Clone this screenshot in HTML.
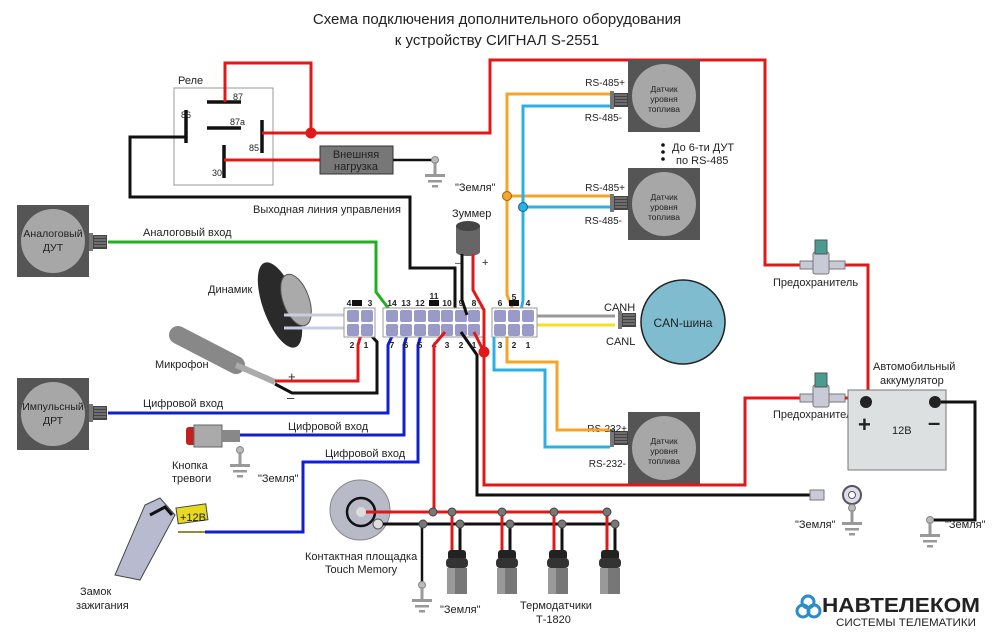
<!DOCTYPE html>
<html><head><meta charset="utf-8"><style>
html,body{margin:0;padding:0;background:#fff}
svg{display:block}
text{font-family:"Liberation Sans",sans-serif;fill:#222}
</style></head><body>
<svg width="1000" height="643" viewBox="0 0 1000 643" xmlns="http://www.w3.org/2000/svg">
<defs>
<g id="gnd"><circle cx="0" cy="0" r="3.5" fill="#bbb" stroke="#888"/><rect x="-1.5" y="2" width="3" height="13" fill="#999"/><rect x="-10" y="14" width="20" height="3" fill="#999"/><rect x="-7" y="20" width="14" height="2.5" fill="#999"/><rect x="-3" y="25" width="6" height="2.5" fill="#999"/></g>
<g id="dut"><rect x="0" y="0" width="72" height="72" fill="#555"/><circle cx="36" cy="36" r="32" fill="#a7a7a7"/></g>
<g id="plug"><rect x="0" y="-7" width="14" height="14" fill="#444"/><rect x="-4" y="-9" width="4" height="18" fill="#777"/><path d="M1-5h12M1-2h12M1 1h12M1 4h12" stroke="#999" stroke-width="1"/></g>
<g id="thermo"><rect x="-9" y="0" width="18" height="10" rx="3" fill="#222"/><rect x="-11" y="8" width="22" height="10" rx="4" fill="#333"/><rect x="-10" y="18" width="20" height="26" fill="#777"/><rect x="-10" y="18" width="8" height="26" fill="#999"/></g>
</defs>

<text x="497" y="24" font-size="15" text-anchor="middle">Схема подключения дополнительного оборудования</text>
<text x="497" y="45" font-size="15" text-anchor="middle">к устройству СИГНАЛ S-2551</text>

<!-- relay -->
<text x="178" y="84" font-size="11">Реле</text>
<rect x="174" y="88" width="99" height="97" fill="#fff" stroke="#999"/>
<g stroke="#111" stroke-width="3.5" fill="none">
<path d="M207 102h34M207 128h34M186 110v33M262 120v33M224 145v33"/>
</g>
<g font-size="9"><text x="233" y="100">87</text><text x="230" y="125">87a</text><text x="181" y="118">86</text><text x="249" y="151">85</text><text x="212" y="176">30</text></g>

<path d="M186 137H130V197H410V268H455V312" stroke="#111" stroke-width="3" fill="none"/>
<text x="253" y="213" font-size="11">Выходная линия управления</text>
<g stroke="#e01818" stroke-width="3" fill="none">
<path d="M225 102V63H311V133"/>
<path d="M262 133H490V60H765V265H800"/>
<path d="M845 265H868V400"/>
<path d="M224 160H322"/>
</g>
<circle cx="311" cy="133" r="5.5" fill="#e01818"/>
<rect x="320" y="146" width="73" height="28" fill="#777" stroke="#333"/>
<text x="356" y="158" font-size="11" text-anchor="middle">Внешняя</text>
<text x="356" y="170" font-size="11" text-anchor="middle">нагрузка</text>
<path d="M393 160H433" stroke="#111" stroke-width="2.5"/>
<use href="#gnd" x="435" y="160"/>
<text x="455" y="191" font-size="11">"Земля"</text>

<use href="#dut" x="628" y="60"/><use href="#dut" x="628" y="168"/><use href="#dut" x="628" y="412"/>
<g font-size="8.5" text-anchor="middle" fill="#333">
<text x="664" y="92">Датчик</text><text x="664" y="102">уровня</text><text x="664" y="112">топлива</text>
<text x="664" y="200">Датчик</text><text x="664" y="210">уровня</text><text x="664" y="220">топлива</text>
<text x="664" y="444">Датчик</text><text x="664" y="454">уровня</text><text x="664" y="464">топлива</text>
</g>
<use href="#plug" x="614" y="100"/><use href="#plug" x="614" y="203"/><use href="#plug" x="614" y="438"/>
<g font-size="10" text-anchor="end"><text x="625" y="86">RS-485+</text><text x="622" y="121">RS-485-</text>
<text x="625" y="191">RS-485+</text><text x="622" y="224">RS-485-</text>
<text x="627" y="432">RS-232+</text><text x="626" y="467">RS-232-</text></g>
<circle cx="663" cy="145" r="1.8" fill="#111"/><circle cx="663" cy="152" r="1.8" fill="#111"/><circle cx="663" cy="159" r="1.8" fill="#111"/>
<text x="672" y="151" font-size="11">До 6-ти ДУТ</text><text x="676" y="164" font-size="11">по RS-485</text>

<g fill="none" stroke-width="3">
<path d="M610 94H507V295L514 312" stroke="#f4a428"/>
<path d="M507 196H610" stroke="#f4a428"/>
<path d="M610 106H523V300L520 316" stroke="#2ab0e4"/>
<path d="M523 207H610" stroke="#2ab0e4"/>
<path d="M502 320L507 330V362H557V430H610" stroke="#f4a428"/>
<path d="M503 327L494 335V370H545V447H610" stroke="#2ab0e4"/>
<path d="M528 316H615" stroke="#999"/>
<path d="M528 325H615" stroke="#f4e020"/>
</g>
<circle cx="507" cy="196" r="4.5" fill="#f4a428" stroke="#a06010"/>
<circle cx="523" cy="207" r="4.5" fill="#2ab0e4" stroke="#106090"/>
<use href="#plug" x="622" y="320"/>
<circle cx="683" cy="322" r="42" fill="#7fbcd0" stroke="#222" stroke-width="1.5"/>
<text x="683" y="327" font-size="12" text-anchor="middle">CAN-шина</text>
<text x="604" y="311" font-size="11">CANH</text><text x="606" y="345" font-size="11">CANL</text>

<use href="#dut" x="17" y="205"/><use href="#dut" x="17" y="378"/>
<use href="#plug" x="93" y="242"/><use href="#plug" x="93" y="413"/>
<g font-size="10.5" text-anchor="middle"><text x="53" y="237">Аналоговый</text><text x="53" y="251">ДУТ</text>
<text x="53" y="410">Импульсный</text><text x="53" y="424">ДРТ</text></g>
<path d="M108 242H376V292L392 313" stroke="#22b020" stroke-width="3" fill="none"/>
<text x="143" y="236" font-size="11">Аналоговый вход</text>

<g stroke="#1020d0" stroke-width="3" fill="none">
<path d="M108 413H388V345L394 332"/>
<path d="M240 435H404V345L408 332"/>
<path d="M205 532H303V462H418V345L422 332"/>
</g>
<text x="143" y="407" font-size="11">Цифровой вход</text>
<text x="288" y="430" font-size="11">Цифровой вход</text>
<text x="325" y="457" font-size="11">Цифровой вход</text>

<ellipse cx="280" cy="305" rx="17" ry="45" transform="rotate(-20 280 305)" fill="#2a2a2a"/>
<ellipse cx="296" cy="300" rx="13" ry="27" transform="rotate(-20 296 300)" fill="#aaa" stroke="#555"/>
<text x="208" y="293" font-size="11">Динамик</text>
<path d="M284 315H350M284 328H350" stroke="#c8cce0" stroke-width="3"/>
<path d="M178 335L236 365" stroke="#888" stroke-width="18" stroke-linecap="round"/>
<path d="M236 365L275 382" stroke="#aaa" stroke-width="6"/>
<text x="155" y="368" font-size="11">Микрофон</text>
<path d="M275 381H358V345L366 318" stroke="#e01818" stroke-width="3" fill="none"/>
<path d="M275 384L292 393H377V342L368 332" stroke="#111" stroke-width="3" fill="none"/>
<text x="288" y="381" font-size="13">+</text><text x="287" y="402" font-size="13">–</text>

<rect x="186" y="427" width="10" height="18" rx="3" fill="#c02020"/>
<rect x="194" y="425" width="28" height="22" fill="#aaa" stroke="#666"/>
<rect x="222" y="430" width="18" height="12" fill="#888"/>
<use href="#gnd" x="240" y="450"/>
<text x="172" y="469" font-size="11">Кнопка</text><text x="172" y="482" font-size="11">тревоги</text>
<text x="258" y="482" font-size="11">"Земля"</text>

<path d="M115 575L145 505L160 498L175 515L140 580Z" fill="#b8bbd0" stroke="#444"/>
<path d="M150 515L165 507L172 515" stroke="#111" stroke-width="3" fill="none"/>
<rect x="176" y="508" width="30" height="16" fill="#e8d820" stroke="#444" transform="rotate(-8 176 508)"/>
<text x="180" y="521" font-size="11" fill="#111">+12В</text>
<path d="M178 532H205" stroke="#998a30" stroke-width="2"/>
<text x="80" y="595" font-size="11">Замок</text><text x="76" y="609" font-size="11">зажигания</text>

<rect x="344" y="308" width="31" height="29" fill="#fff" stroke="#999"/>
<rect x="383" y="308" width="100" height="29" fill="#fff" stroke="#999"/>
<rect x="492" y="308" width="45" height="29" fill="#fff" stroke="#999"/>
<rect x="352" y="300" width="10" height="6" fill="#111"/>
<rect x="429" y="300" width="10" height="6" fill="#111"/>
<rect x="509" y="300" width="10" height="6" fill="#111"/>
<g fill="#9a9ac8">
<rect x="347" y="310" width="12" height="12" rx="2"/><rect x="361" y="310" width="12" height="12" rx="2"/>
<rect x="347" y="324" width="12" height="12" rx="2"/><rect x="361" y="324" width="12" height="12" rx="2"/>
<rect x="386" y="310" width="12" height="12" rx="2"/><rect x="400" y="310" width="12" height="12" rx="2"/><rect x="414" y="310" width="12" height="12" rx="2"/><rect x="428" y="310" width="12" height="12" rx="2"/><rect x="441" y="310" width="12" height="12" rx="2"/><rect x="455" y="310" width="12" height="12" rx="2"/><rect x="468" y="310" width="12" height="12" rx="2"/>
<rect x="386" y="324" width="12" height="12" rx="2"/><rect x="400" y="324" width="12" height="12" rx="2"/><rect x="414" y="324" width="12" height="12" rx="2"/><rect x="428" y="324" width="12" height="12" rx="2"/><rect x="441" y="324" width="12" height="12" rx="2"/><rect x="455" y="324" width="12" height="12" rx="2"/><rect x="468" y="324" width="12" height="12" rx="2"/>
<rect x="494" y="310" width="12" height="12" rx="2"/><rect x="508" y="310" width="12" height="12" rx="2"/><rect x="522" y="310" width="12" height="12" rx="2"/>
<rect x="494" y="324" width="12" height="12" rx="2"/><rect x="508" y="324" width="12" height="12" rx="2"/><rect x="522" y="324" width="12" height="12" rx="2"/>
</g>
<g font-size="8.5" font-weight="bold" text-anchor="middle" fill="#111">
<text x="349" y="306">4</text><text x="370" y="306">3</text><text x="352" y="348">2</text><text x="366" y="348">1</text>
<text x="392" y="306">14</text><text x="406" y="306">13</text><text x="420" y="306">12</text><text x="434" y="299">11</text><text x="447" y="306">10</text><text x="461" y="306">9</text><text x="474" y="306">8</text>
<text x="392" y="348">7</text><text x="406" y="348">6</text><text x="420" y="348">5</text><text x="434" y="348">4</text><text x="447" y="348">3</text><text x="461" y="348">2</text><text x="474" y="348">1</text>
<text x="500" y="306">6</text><text x="514" y="300">5</text><text x="528" y="306">4</text>
<text x="500" y="348">3</text><text x="514" y="348">2</text><text x="528" y="348">1</text>
</g>

<text x="452" y="217" font-size="11">Зуммер</text>
<rect x="456" y="226" width="24" height="26" fill="#666"/>
<ellipse cx="468" cy="226" rx="12" ry="5" fill="#444"/>
<ellipse cx="468" cy="252" rx="12" ry="4" fill="#666"/>
<path d="M462 254V300L467 315" stroke="#111" stroke-width="3" fill="none"/>
<path d="M473 254V290L484 310V352" stroke="#e01818" stroke-width="3" fill="none"/>
<text x="455" y="266" font-size="10">–</text><text x="482" y="266" font-size="11">+</text>

<path d="M445 332L434 345V513" stroke="#e01818" stroke-width="3" fill="none"/>
<path d="M474 332L484 352V485H745V398H800" stroke="#e01818" stroke-width="3" fill="none"/>
<path d="M461 332L477 355V495H820" stroke="#111" stroke-width="3" fill="none"/>
<circle cx="484" cy="352" r="5.5" fill="#e01818"/>

<rect x="800" y="261" width="45" height="8" fill="#c8cad8" stroke="#777"/>
<rect x="813" y="252" width="16" height="22" rx="2" fill="#c8cad8" stroke="#777"/>
<rect x="815" y="240" width="12" height="14" fill="#4a9c90" stroke="#555"/>
<rect x="800" y="394" width="45" height="8" fill="#c8cad8" stroke="#777"/>
<rect x="813" y="385" width="16" height="22" rx="2" fill="#c8cad8" stroke="#777"/>
<rect x="815" y="373" width="12" height="14" fill="#4a9c90" stroke="#555"/>
<path d="M845 398H868" stroke="#e01818" stroke-width="3"/>
<text x="773" y="286" font-size="11">Предохранитель</text>
<text x="773" y="418" font-size="11">Предохранитель</text>

<text x="873" y="370" font-size="11">Автомобильный</text>
<text x="880" y="384" font-size="11">аккумулятор</text>
<rect x="848" y="390" width="98" height="80" fill="#dde0e0" stroke="#777"/>
<circle cx="866" cy="402" r="6" fill="#222"/><circle cx="935" cy="402" r="6" fill="#222"/>
<text x="858" y="432" font-size="22" font-weight="bold" fill="#111">+</text>
<text x="928" y="430" font-size="22" font-weight="bold" fill="#111">–</text>
<text x="892" y="434" font-size="11">12В</text>
<path d="M941 402H975V520H932" stroke="#111" stroke-width="3" fill="none"/>
<use href="#gnd" x="930" y="520"/>
<text x="945" y="528" font-size="11">"Земля"</text>

<rect x="810" y="490" width="14" height="10" fill="#c8cad8" stroke="#777"/>
<circle cx="852" cy="495" r="9" fill="#dde" stroke="#555" stroke-width="2"/>
<circle cx="852" cy="495" r="3.5" fill="#fff" stroke="#555"/>
<use href="#gnd" x="852" y="508"/>
<text x="795" y="528" font-size="11">"Земля"</text>

<circle cx="360" cy="510" r="30" fill="#b8bac8" stroke="#888"/>
<circle cx="361" cy="512" r="14" fill="none" stroke="#111" stroke-width="2.5"/>
<circle cx="361" cy="512" r="5" fill="#ddd"/>
<circle cx="378" cy="524" r="5" fill="#ddd" stroke="#555"/>
<text x="305" y="560" font-size="11">Контактная площадка</text>
<text x="325" y="573" font-size="11">Touch Memory</text>
<path d="M366 512H607" stroke="#e01818" stroke-width="3"/>
<path d="M383 524H615" stroke="#111" stroke-width="3"/>
<path d="M422 524V585" stroke="#111" stroke-width="2.5"/>
<use href="#gnd" x="422" y="585"/>
<text x="440" y="613" font-size="11">"Земля"</text>
<g stroke-width="3">
<path d="M452 512V560M554 512V560M502 512V560M607 512V560" stroke="#e01818"/>
<path d="M460 524V560M510 524V560M562 524V560M615 524V560" stroke="#111"/>
</g>
<use href="#thermo" x="457" y="550"/><use href="#thermo" x="507" y="550"/><use href="#thermo" x="558" y="550"/><use href="#thermo" x="610" y="550"/>
<g fill="#777" stroke="#444">
<circle cx="433" cy="512" r="4"/><circle cx="452" cy="512" r="4"/><circle cx="502" cy="512" r="4"/><circle cx="554" cy="512" r="4"/><circle cx="607" cy="512" r="4"/>
<circle cx="423" cy="524" r="4"/><circle cx="460" cy="524" r="4"/><circle cx="510" cy="524" r="4"/><circle cx="562" cy="524" r="4"/><circle cx="615" cy="524" r="4"/>
</g>
<text x="520" y="609" font-size="11">Термодатчики</text>
<text x="536" y="623" font-size="11">Т-1820</text>

<g fill="none" stroke="#2a8cc8" stroke-width="3">
<circle cx="808" cy="602" r="6"/><circle cx="803" cy="611" r="6"/><circle cx="814" cy="611" r="6"/>
</g>
<text x="822" y="612" font-size="20" font-weight="bold" fill="#2a8cc8" textLength="158" lengthAdjust="spacingAndGlyphs">НАВТЕЛЕКОМ</text>
<text x="836" y="626" font-size="11" fill="#aaa" textLength="140" lengthAdjust="spacingAndGlyphs">СИСТЕМЫ ТЕЛЕМАТИКИ</text>
</svg>
</body></html>
